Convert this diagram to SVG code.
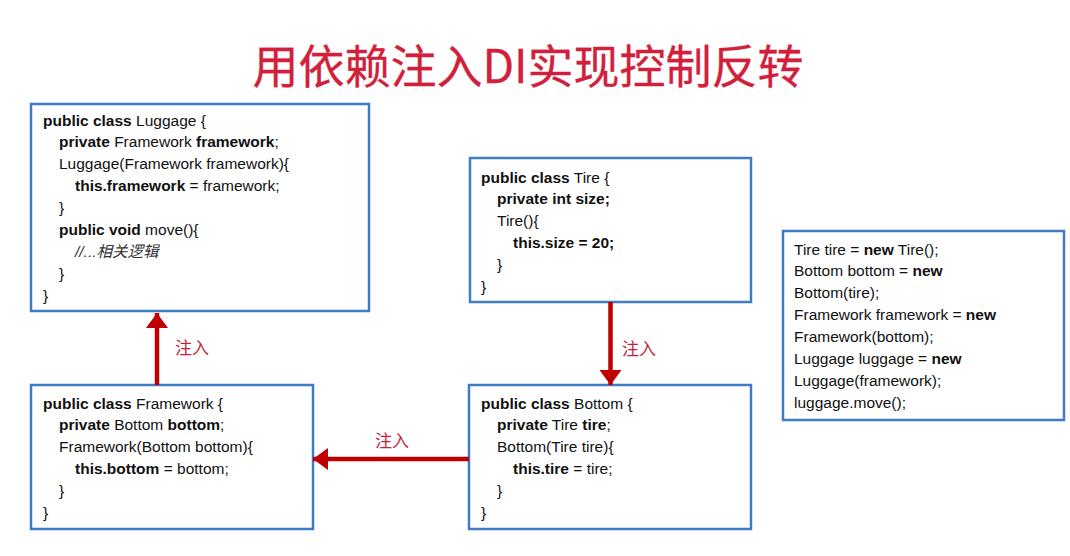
<svg xmlns="http://www.w3.org/2000/svg" width="1070" height="556" viewBox="0 0 1070 556">
  <style>
    .box { fill: #ffffff; stroke: #3f7cc4; stroke-width: 2.5; }
    .code { font-family: "Liberation Sans", Arial, sans-serif; font-size: 15.5px; fill: #111111; }
    .b { font-weight: bold; }
    .it { font-style: italic; fill: #333333; }
    .title { font-family: "Noto Sans CJK SC", "Noto Sans", sans-serif; font-size: 46px; font-weight: normal; fill: #d21f3c; stroke: #d21f3c; stroke-width: 0.3; }
    .label { font-family: "Noto Sans CJK SC", "Noto Sans", sans-serif; font-size: 17px; fill: #c41e3a; }
    .arrow { stroke: #c00000; stroke-width: 4.5; fill: none; marker-end: url(#head); }
  </style>
  <defs>
    <marker id="head" markerUnits="userSpaceOnUse" markerWidth="16" markerHeight="22" refX="15" refY="11" orient="auto">
      <path d="M0,0 L15,11 L0,22 Z" fill="#c00000"/>
    </marker>
  </defs>

  <rect width="1070" height="556" fill="#ffffff"/>

  <text class="title" x="528" y="83" text-anchor="middle">用依赖注入DI实现控制反转</text>

  <g id="luggage">
    <rect class="box" x="31" y="104" width="338" height="207"/>
    <text class="code" x="43" y="125.5"><tspan class="b">public class</tspan> Luggage {</text>
    <text class="code" x="59" y="147.4"><tspan class="b">private</tspan> Framework <tspan class="b">framework</tspan>;</text>
    <text class="code" x="59" y="169.3">Luggage(Framework framework){</text>
    <text class="code" x="75" y="191.2"><tspan class="b">this.framework</tspan> = framework;</text>
    <text class="code" x="59" y="213.1">}</text>
    <text class="code" x="59" y="235"><tspan class="b">public void</tspan> move(){</text>
    <text class="code it" x="75" y="256.9">//...<tspan font-family="'Noto Sans CJK SC', sans-serif">相关逻辑</tspan></text>
    <text class="code" x="59" y="278.8">}</text>
    <text class="code" x="43" y="300.7">}</text>
  </g>

  <g id="tire">
    <rect class="box" x="470" y="158" width="281" height="144"/>
    <text class="code" x="481" y="182.5"><tspan class="b">public class</tspan> Tire {</text>
    <text class="code b" x="497" y="204.4">private int size;</text>
    <text class="code" x="497" y="226.3">Tire(){</text>
    <text class="code b" x="513" y="248.2">this.size = 20;</text>
    <text class="code" x="497" y="270.1">}</text>
    <text class="code" x="481" y="292">}</text>
  </g>

  <g id="framework">
    <rect class="box" x="31" y="385" width="282" height="144"/>
    <text class="code" x="43" y="408.5"><tspan class="b">public class</tspan> Framework {</text>
    <text class="code" x="59" y="430.4"><tspan class="b">private</tspan> Bottom <tspan class="b">bottom</tspan>;</text>
    <text class="code" x="59" y="452.3">Framework(Bottom bottom){</text>
    <text class="code" x="75" y="474.2"><tspan class="b">this.bottom</tspan> = bottom;</text>
    <text class="code" x="59" y="496.1">}</text>
    <text class="code" x="43" y="518">}</text>
  </g>

  <g id="bottom">
    <rect class="box" x="469" y="385" width="282" height="144"/>
    <text class="code" x="481" y="408.5"><tspan class="b">public class</tspan> Bottom {</text>
    <text class="code" x="497" y="430.4"><tspan class="b">private</tspan> Tire <tspan class="b">tire</tspan>;</text>
    <text class="code" x="497" y="452.3">Bottom(Tire tire){</text>
    <text class="code" x="513" y="474.2"><tspan class="b">this.tire</tspan> = tire;</text>
    <text class="code" x="497" y="496.1">}</text>
    <text class="code" x="481" y="518">}</text>
  </g>

  <g id="main">
    <rect class="box" x="783" y="231" width="281" height="189"/>
    <text class="code" x="794" y="254.5">Tire tire = <tspan class="b">new</tspan> Tire();</text>
    <text class="code" x="794" y="276.4">Bottom bottom = <tspan class="b">new</tspan></text>
    <text class="code" x="794" y="298.3">Bottom(tire);</text>
    <text class="code" x="794" y="320.2">Framework framework = <tspan class="b">new</tspan></text>
    <text class="code" x="794" y="342.1">Framework(bottom);</text>
    <text class="code" x="794" y="364">Luggage luggage = <tspan class="b">new</tspan></text>
    <text class="code" x="794" y="385.9">Luggage(framework);</text>
    <text class="code" x="794" y="407.8">luggage.move();</text>
  </g>

  <g id="connectors">
    <path class="arrow" d="M157,385 L157,313"/>
    <path class="arrow" d="M610.5,302 L610.5,385"/>
    <path class="arrow" d="M469,459 L313,459"/>
    <text class="label" x="175" y="354">注入</text>
    <text class="label" x="622" y="355">注入</text>
    <text class="label" x="375" y="447">注入</text>
  </g>
</svg>
